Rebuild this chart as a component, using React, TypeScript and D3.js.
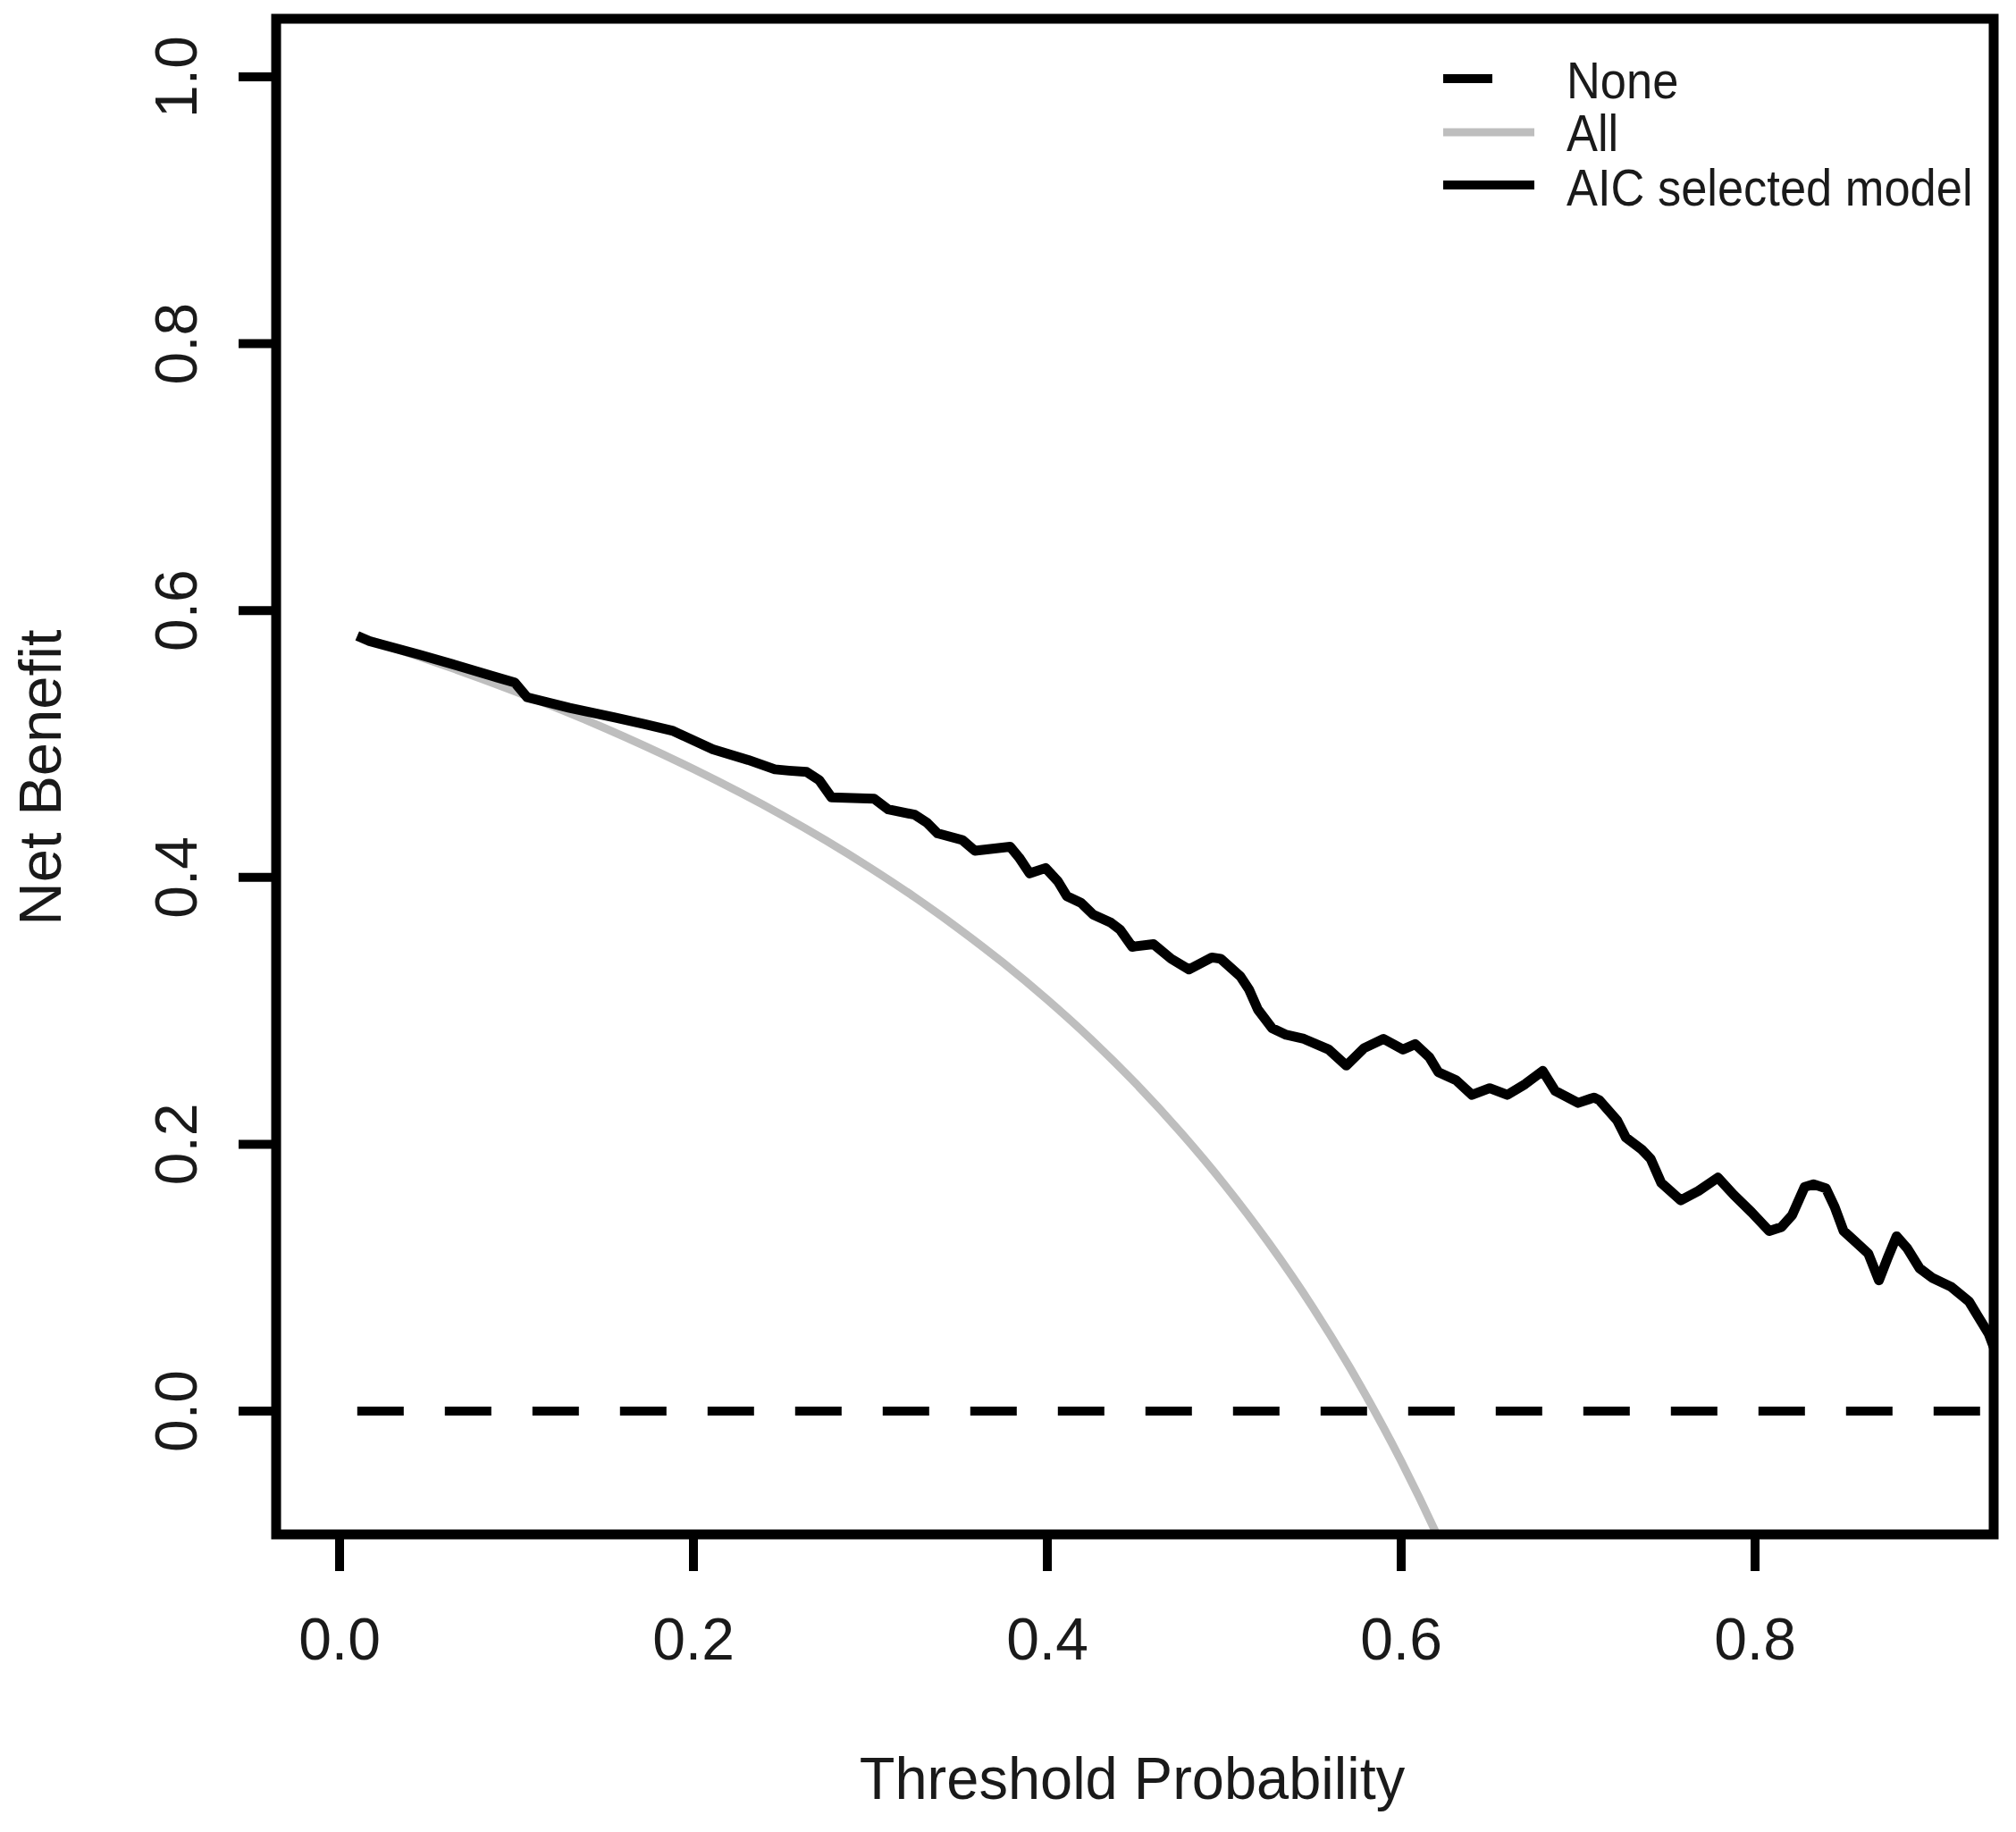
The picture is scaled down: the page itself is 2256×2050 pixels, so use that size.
import React from "react";
import * as d3 from "d3";

const xTicks = [0, 0.2, 0.4, 0.6, 0.8];
const yTicks = [0, 0.2, 0.4, 0.6, 0.8, 1.0];

const noneT = [0.01, 0.99];
const noneV = [0, 0];

const allT = [0.01, 0.05, 0.1, 0.15, 0.2, 0.25, 0.275, 0.3, 0.325, 0.35, 0.375, 0.4, 0.425, 0.45, 0.475, 0.5, 0.525, 0.55, 0.575, 0.6, 0.625, 0.65];
const allV = [0.5808, 0.5632, 0.5389, 0.5118, 0.4812, 0.4467, 0.4276, 0.4071, 0.3852, 0.3615, 0.336, 0.3083, 0.2783, 0.2455, 0.2095, 0.17, 0.1263, 0.0778, 0.0235, -0.0375, -0.1067, -0.1857];

const modelT = [0.01, 0.017, 0.045, 0.066, 0.086, 0.099, 0.106, 0.13, 0.155, 0.172, 0.188, 0.211, 0.231, 0.246, 0.254, 0.264, 0.271, 0.278, 0.302, 0.31, 0.325, 0.332, 0.338, 0.352, 0.359, 0.379, 0.384, 0.39, 0.399, 0.406, 0.411, 0.419, 0.426, 0.436, 0.441, 0.448, 0.46, 0.47, 0.48, 0.493, 0.498, 0.509, 0.514, 0.519, 0.527, 0.535, 0.545, 0.559, 0.569, 0.579, 0.59, 0.601, 0.608, 0.616, 0.621, 0.631, 0.64, 0.65, 0.66, 0.67, 0.68, 0.687, 0.7, 0.709, 0.712, 0.722, 0.727, 0.736, 0.741, 0.747, 0.758, 0.768, 0.779, 0.788, 0.798, 0.808, 0.815, 0.821, 0.828, 0.833, 0.84, 0.845, 0.85, 0.855, 0.864, 0.87, 0.875, 0.88, 0.886, 0.893, 0.9, 0.911, 0.921, 0.926, 0.932, 0.94];
const modelV = [0.581, 0.577, 0.567, 0.559, 0.551, 0.546, 0.535, 0.527, 0.52, 0.515, 0.51, 0.496, 0.488, 0.481, 0.48, 0.479, 0.473, 0.46, 0.459, 0.451, 0.447, 0.441, 0.433, 0.428, 0.42, 0.423, 0.415, 0.403, 0.407, 0.397, 0.386, 0.381, 0.372, 0.366, 0.361, 0.348, 0.35, 0.339, 0.331, 0.34, 0.339, 0.326, 0.316, 0.301, 0.287, 0.282, 0.279, 0.271, 0.259, 0.272, 0.279, 0.271, 0.275, 0.265, 0.254, 0.248, 0.237, 0.242, 0.237, 0.245, 0.255, 0.24, 0.231, 0.235, 0.233, 0.218, 0.205, 0.196, 0.189, 0.171, 0.158, 0.165, 0.175, 0.162, 0.149, 0.135, 0.138, 0.147, 0.168, 0.17, 0.167, 0.153, 0.135, 0.129, 0.118, 0.098, 0.115, 0.131, 0.122, 0.107, 0.1, 0.093, 0.082, 0.071, 0.058, 0.03];

const legendLabels = ["None", "All", "AIC selected model"];

export default function App() {
  const W = 2256, H = 2050;
  const x = d3.scaleLinear().domain([0, 0.8]).range([380, 1964]);
  const y = d3.scaleLinear().domain([0, 1]).range([1579, 86]);
  const left = 309, right = 2231, top = 21, bottom = 1717;
  const font = "'Liberation Sans', Arial, Helvetica, sans-serif";
  const txt = "#1a1a1a";

  const line = d3.line<[number, number]>().x((d) => x(d[0])).y((d) => y(d[1]));
  const allLine = d3.line<[number, number]>().x((d) => x(d[0])).y((d) => y(d[1])).curve(d3.curveMonotoneX);
  const allPts = allT.map((t, i) => [t, allV[i]] as [number, number]);
  const modelPts = modelT.map((t, i) => [t, modelV[i]] as [number, number]);
  const nonePts = noneT.map((t, i) => [t, noneV[i]] as [number, number]);

  const legendY = [88, 148, 207];
  const legendBase = [110, 169, 230];

  return (
    <svg width={W} height={H} style={{ position: "absolute", left: 0, top: 0, background: "#fff" }}>
      <defs>
        <clipPath id="plotclip">
          <rect x={left} y={top} width={right - left} height={bottom - top} />
        </clipPath>
      </defs>
      <rect x={0} y={0} width={W} height={H} fill="#fff" />
      <g clipPath="url(#plotclip)">
        <path d={allLine(allPts) || ""} fill="none" stroke="#BEBEBE" strokeWidth={9} />
        <path d={line(nonePts) || ""} fill="none" stroke="#000" strokeWidth={10} strokeDasharray="52 46" />
        <path d={line(modelPts) || ""} fill="none" stroke="#000" strokeWidth={11} strokeLinejoin="round" />
      </g>
      <rect x={left} y={top} width={right - left} height={bottom - top} fill="none" stroke="#000" strokeWidth={11} />
      {xTicks.map((t) => (
        <g key={"x" + t}>
          <line x1={x(t)} x2={x(t)} y1={bottom} y2={1758} stroke="#000" strokeWidth={10} />
          <text x={x(t)} y={1857} textAnchor="middle" fontFamily={font} fontSize={66} fill={txt}>
            {t.toFixed(1)}
          </text>
        </g>
      ))}
      {yTicks.map((t) => (
        <g key={"y" + t}>
          <line x1={267} x2={left} y1={y(t)} y2={y(t)} stroke="#000" strokeWidth={10} />
          <text
            transform={`translate(220,${y(t)}) rotate(-90)`}
            textAnchor="middle"
            fontFamily={font}
            fontSize={66}
            fill={txt}
          >
            {t.toFixed(1)}
          </text>
        </g>
      ))}
      <g transform="translate(1267,2013) scale(0.97,1)">
        <text x={0} y={0} textAnchor="middle" fontFamily={font} fontSize={67} fill={txt}>
          Threshold Probability
        </text>
      </g>
      <text transform={`translate(68,870) rotate(-90)`} textAnchor="middle" fontFamily={font} fontSize={67} fill={txt}>
        Net Benefit
      </text>
      <g>
        <line x1={1615} x2={1717} y1={legendY[0]} y2={legendY[0]} stroke="#000" strokeWidth={10} strokeDasharray="55 60" />
        <line x1={1615} x2={1717} y1={legendY[1]} y2={legendY[1]} stroke="#BEBEBE" strokeWidth={9} />
        <line x1={1615} x2={1717} y1={legendY[2]} y2={legendY[2]} stroke="#000" strokeWidth={10} />
        {legendLabels.map((l, i) => (
          <g key={l} transform={`translate(1753,${legendBase[i]}) scale(0.92,1)`}>
            <text x={0} y={0} fontFamily={font} fontSize={57} fill={txt}>
              {l}
            </text>
          </g>
        ))}
      </g>
    </svg>
  );
}
